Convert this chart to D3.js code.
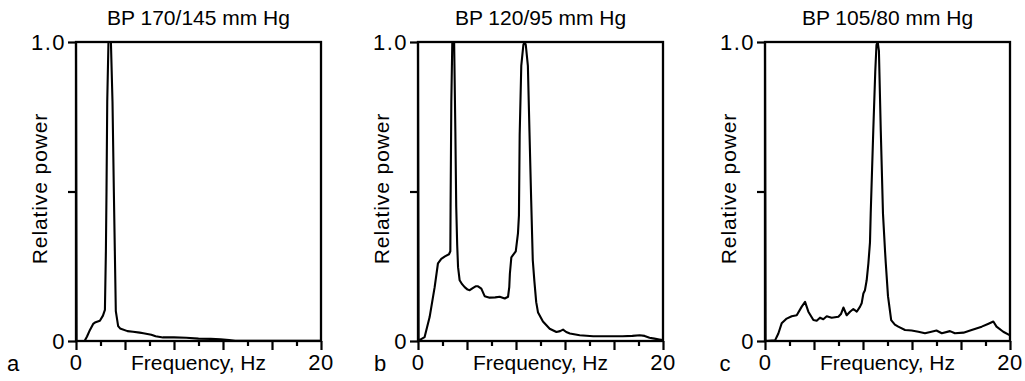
<!DOCTYPE html>
<html>
<head>
<meta charset="utf-8">
<script src="https://cdn.jsdelivr.net/npm/d3@7"></script>
<style>
  html, body { margin: 0; padding: 0; background: #fff; }
  svg { display: block; }
  text { font-family: "Liberation Sans", Arial, Helvetica, sans-serif; fill: #000; }
</style>
</head>
<body>
<svg id="chart" width="1025" height="381"></svg>
<script>
// ---------- data ----------
const panelLetters = ["a", "b", "c"];
const panelTitles = ["BP 170/145 mm Hg", "BP 120/95 mm Hg", "BP 105/80 mm Hg"];
const xLabel = "Frequency, Hz";
const yLabel = "Relative power";
const xDomain = [0, 20];
const yDomain = [0, 1];
const xMajorTicks = [0, 4, 8, 12, 16, 20];
const xMinorTicks = [2, 6, 10, 14, 18];
const yTicks = [0, 0.5, 1];
const xTickLabelValues = [0, 20];
const xTickLabels = ["0", "20"];
const yTickLabelValues = [0, 1];
const yTickLabels = ["0", "1.0"];

// [frequency Hz, relative power]
const spectrumA = [[0,1],[0.05,0],[0.7,0],[0.9,0.015],[1.14,0.037],[1.4,0.057],[1.6,0.063],[1.95,0.068],
  [2.2,0.085],[2.36,0.104],[2.44,0.3],[2.49,0.5],[2.55,0.8],[2.65,1.0],[2.85,1.0],[2.98,0.8],[3.09,0.5],
  [3.17,0.3],[3.25,0.1],[3.44,0.05],[3.6,0.042],[4.2,0.033],[4.66,0.031],[5.2,0.028],[5.5,0.026],
  [6.15,0.021],[6.5,0.016],[7.1,0.012],[8,0.012],[9,0.011],[10,0.008],[11,0.007],[11.8,0.006],
  [12.5,0.003],[13,0.001],[20,0.001]];

const spectrumB = [[0,1],[0.05,0],[0.15,0.004],[0.54,0.013],[0.95,0.08],[1.36,0.18],[1.63,0.26],[1.9,0.275],
  [2.2,0.283],[2.53,0.29],[2.64,0.30],[2.66,0.45],[2.72,0.8],[2.8,1.0],[2.95,1.0],[3.05,0.7],[3.12,0.45],
  [3.2,0.32],[3.27,0.247],[3.4,0.203],[3.6,0.19],[3.81,0.18],[4.05,0.172],[4.22,0.17],[4.5,0.178],
  [4.7,0.183],[4.9,0.183],[5.17,0.175],[5.44,0.15],[5.85,0.145],[6.3,0.146],[6.67,0.148],[7.08,0.142],
  [7.35,0.148],[7.45,0.18],[7.5,0.225],[7.62,0.28],[7.98,0.30],[8.16,0.36],[8.24,0.42],[8.3,0.69],
  [8.43,0.92],[8.6,0.99],[8.7,1.0],[8.8,0.99],[8.97,0.92],[9.1,0.70],[9.24,0.47],[9.37,0.27],[9.5,0.2],
  [9.65,0.13],[9.8,0.095],[10.2,0.065],[10.75,0.041],[11.3,0.03],[11.6,0.033],[11.84,0.038],[12.1,0.03],
  [12.4,0.025],[13.2,0.019],[14.3,0.016],[15.5,0.016],[16.7,0.016],[17.5,0.017],[18.1,0.019],[18.5,0.017],
  [18.9,0.011],[19.3,0.008],[19.7,0.005],[20,0.003]];

const spectrumC = [[0,1],[0.05,0],[0.82,0.002],[1.09,0.025],[1.36,0.059],[1.77,0.075],[2.18,0.083],[2.59,0.086],
  [3.0,0.115],[3.27,0.131],[3.54,0.098],[3.95,0.07],[4.22,0.068],[4.49,0.078],[4.76,0.073],[5.04,0.083],
  [5.44,0.078],[5.99,0.081],[6.2,0.09],[6.4,0.112],[6.67,0.086],[6.94,0.098],[7.21,0.107],[7.49,0.098],
  [7.76,0.115],[7.89,0.126],[8.03,0.159],[8.16,0.17],[8.3,0.203],[8.44,0.26],[8.57,0.33],[8.63,0.427],
  [8.84,0.705],[9.0,0.9],[9.1,0.99],[9.2,1.0],[9.3,0.97],[9.45,0.705],[9.63,0.427],[9.8,0.3],[9.86,0.26],
  [10.04,0.15],[10.3,0.07],[10.6,0.055],[10.88,0.048],[11.43,0.037],[11.97,0.035],[12.52,0.031],
  [13.06,0.026],[13.5,0.03],[14.0,0.035],[14.43,0.026],[15.1,0.033],[15.5,0.026],[16.2,0.028],
  [16.87,0.037],[17.69,0.048],[18.2,0.057],[18.64,0.065],[18.9,0.048],[19.45,0.031],[20,0.019]];

const spectra = [spectrumA, spectrumB, spectrumC];

// ---------- layout ----------
const plotLefts = [76, 418, 765];
const plotWidth = 245;
const plotTop = 42;
const plotBottom = 341;
const letterOffsets = [63, 38, 40];

const svg = d3.select("#chart");
svg.append("rect").attr("width", 1025).attr("height", 381).attr("fill", "#fff");

spectra.forEach((data, i) => {
  const left = plotLefts[i];
  const x = d3.scaleLinear().domain(xDomain).range([left, left + plotWidth]);
  const y = d3.scaleLinear().domain(yDomain).range([plotBottom, plotTop]);
  const g = svg.append("g");
  const cx = (x(0) + x(20)) / 2;

  // frame
  g.append("rect")
    .attr("x", x(0)).attr("y", y(1))
    .attr("width", x(20) - x(0)).attr("height", y(0) - y(1))
    .attr("fill", "none").attr("stroke", "#000").attr("stroke-width", 2.3);

  // x ticks
  const xMaj = g.append("g").attr("transform", `translate(0,${y(0)})`)
    .call(d3.axisBottom(x).tickValues(xMajorTicks).tickSize(9).tickFormat(""));
  const xMin = g.append("g").attr("transform", `translate(0,${y(0)})`)
    .call(d3.axisBottom(x).tickValues(xMinorTicks).tickSize(5).tickFormat(""));
  // y ticks
  const yAx = g.append("g").attr("transform", `translate(${x(0)},0)`)
    .call(d3.axisLeft(y).tickValues(yTicks).tickSize(8).tickFormat(""));
  [xMaj, xMin, yAx].forEach(a => {
    a.select(".domain").remove();
    a.selectAll(".tick line").attr("stroke", "#000").attr("stroke-width", 2.2);
  });

  // tick labels
  g.selectAll(".xtl").data(xTickLabelValues).enter().append("text")
    .attr("x", d => x(d)).attr("y", 370)
    .attr("text-anchor", "middle").attr("font-size", 22).attr("letter-spacing", 0.5)
    .text((d, j) => xTickLabels[j]);
  g.selectAll(".ytl").data(yTickLabelValues).enter().append("text")
    .attr("x", x(0) - 10).attr("y", d => y(d)).attr("dy", "0.36em")
    .attr("text-anchor", "end").attr("font-size", 22).attr("letter-spacing", 1.5)
    .text((d, j) => yTickLabels[j]);

  // curve
  g.append("path").datum(data)
    .attr("d", d3.line().x(d => x(d[0])).y(d => y(d[1])))
    .attr("fill", "none").attr("stroke", "#000")
    .attr("stroke-width", 2.1).attr("stroke-linejoin", "round");

  // titles & labels
  g.append("text").attr("x", cx).attr("y", 25)
    .attr("text-anchor", "middle").attr("font-size", 21).text(panelTitles[i]);
  g.append("text").attr("x", cx).attr("y", 370)
    .attr("text-anchor", "middle").attr("font-size", 21).text(xLabel);
  g.append("text")
    .attr("transform", `translate(${x(0) - 29},${(y(0) + y(1)) / 2 - 3}) rotate(-90)`)
    .attr("text-anchor", "middle").attr("font-size", 21).attr("letter-spacing", 0.9)
    .text(yLabel);
  g.append("text").attr("x", x(0) - letterOffsets[i]).attr("y", 371)
    .attr("text-anchor", "middle").attr("font-size", 22).text(panelLetters[i]);
});
</script>
</body>
</html>
